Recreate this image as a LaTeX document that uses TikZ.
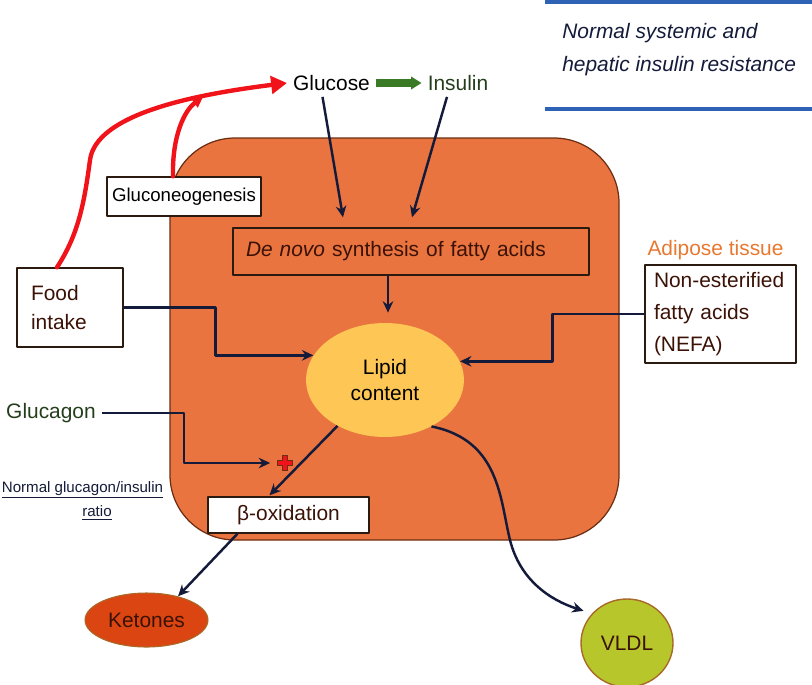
\documentclass[tikz,border=0pt]{standalone}
\usepackage{fontspec}
\setmainfont{Liberation Sans}
\usetikzlibrary{calc,arrows.meta,shapes.geometric}

\definecolor{liverorange}{HTML}{E9743F}
\definecolor{liverline}{HTML}{6B2E12}
\definecolor{boxline}{HTML}{2A1A10}
\definecolor{browntext}{HTML}{3B1205}
\definecolor{navy}{HTML}{141B3A}
\definecolor{glured}{HTML}{F0141A}
\definecolor{glugreen}{HTML}{3A7A25}
\definecolor{darkgreen}{HTML}{243E1C}
\definecolor{lipidyellow}{HTML}{FDC655}
\definecolor{ketonered}{HTML}{DA4512}
\definecolor{vldlgreen}{HTML}{B7C72B}
\definecolor{rimbrown}{HTML}{A86A28}
\definecolor{titleblue}{HTML}{2E62B5}
\definecolor{adipose}{HTML}{E8782F}

\begin{document}
\begin{tikzpicture}[
  x=0.02cm, y=-0.02cm,  % pixel grid of the figure, y runs downwards
  every node/.style={font=\fontsize{11.9}{14}\selectfont},
  box/.style={draw=boxline, line width=0.8pt, fill=white, inner sep=0pt, text=browntext},
  blob/.style={ellipse, inner sep=0pt, text=browntext},
  flow/.style={draw=navy, line width=1.4pt, -{Stealth[length=6.5pt,width=6pt]}},
  redflow/.style={draw=glured, line width=2.5pt, line cap=round},
  every path/.style={line join=round}
]
\useasboundingbox (0,0) rectangle (812,684);

% ---------------- Title lines (top right) ----------------
\draw[titleblue, line width=2.3pt] (545,1.5) -- (812,1.5);
\draw[titleblue, line width=2.8pt] (545,109) -- (812,109);
\node[anchor=west, inner sep=0pt, align=left, text=navy,
      font=\fontsize{11.9}{18.7}\selectfont\itshape] (title) at (562,49.5)
  {Normal systemic and\\hepatic insulin resistance};

% ---------------- Liver ----------------
\draw[fill=liverorange, draw=liverline, line width=0.7pt, rounded corners=1.3cm]
  (170,138) rectangle (619,540);

\node[box, fill=liverorange, minimum width=7.12cm, minimum height=0.94cm,
      text width=6.6cm, align=left] (denovo) at (411,251.5)
  {\textit{De novo} synthesis of fatty acids};
\node[blob, fill=lipidyellow, minimum width=3.16cm, minimum height=2.28cm,
      align=center, text=black, font=\fontsize{11.9}{14.7}\selectfont] (lipid) at (385,380)
  {Lipid\\content};
\node[box, minimum width=3.22cm, minimum height=0.72cm] (beta) at (288.5,515) {β-oxidation};

% ---------------- Outside boxes ----------------
\node[box, text=black, minimum width=3.08cm, minimum height=0.78cm,
      font=\fontsize{10.6}{13}\selectfont] (gluco) at (184,196.5) {Gluconeogenesis};
\node[box, minimum width=2.12cm, minimum height=1.58cm, text width=1.56cm,
      align=left, font=\fontsize{11.9}{16.4}\selectfont] (food) at (70,307.5) {Food\\intake};
\node[box, minimum width=3.02cm, minimum height=1.96cm, text width=2.66cm,
      align=left, font=\fontsize{11.9}{18.1}\selectfont] (nefa) at (720.5,314)
  {\mbox{Non-esterified}\\fatty acids\\(NEFA)};
\node[text=adipose] (adip) at (715.5,250) {Adipose tissue};

\node[text=black] (glucose) at (331.5,83) {Glucose};
\node[text=darkgreen] (insulin) at (458,83) {Insulin};
\node[text=darkgreen] (glucagon) at (51,413) {Glucagon};
\node[text=navy, font=\fontsize{8.6}{10}\selectfont] (gratio) at (82.5,490)
  {\underline{Normal glucagon/insulin}};
\node[text=navy, font=\fontsize{8.6}{10}\selectfont] (gratio2) at (97,513)
  {\underline{ratio}};

\node[blob, draw=rimbrown, line width=0.6pt, fill=ketonered, minimum width=2.46cm,
      minimum height=1.08cm] (ket) at (146.5,620) {Ketones};
\node[blob, draw=rimbrown, line width=0.8pt, fill=vldlgreen, minimum width=1.84cm,
      minimum height=1.76cm] (vldl) at (627,643) {VLDL};

% red plus (stimulation mark)
\node[inner sep=0pt, minimum size=0.3cm] (plus) at (285,463) {};
\begin{scope}[shift={(plus)}]
  \filldraw[fill=glured, draw=liverline, line width=0.8pt]
    (-2.5,-7.5) -- (2.5,-7.5) -- (2.5,-2.5) -- (7.5,-2.5) -- (7.5,2.5) -- (2.5,2.5)
    -- (2.5,7.5) -- (-2.5,7.5) -- (-2.5,2.5) -- (-7.5,2.5) -- (-7.5,-2.5) -- (-2.5,-2.5) -- cycle;
\end{scope}

% ---------------- Connectors ----------------
\draw[glugreen, line width=4pt, -{Triangle[length=6pt,width=7pt]}] (glucose.east) -- (insulin.west);

\coordinate (join) at (203,97);
\draw[redflow, -{Triangle[length=9pt,width=10pt]}] ($(food.north)+(-13,0)$)
  .. controls (78,235) and (84,205) .. (90,160)
  .. controls (96,115) and (190,95) .. (glucose.west);
\draw[redflow, -{Triangle[length=6pt,width=6pt]}] ($(gluco.north)+(-11,0)$)
  .. controls (172,135) and (185,110) .. (join);

\draw[flow] ($(glucose.south)+(-9,0)$) -- ($(denovo.north)+(-68,-10)$);
\draw[flow] ($(insulin.south)+(-11,0)$) -- ($(denovo.north)+(1,-10)$);
\draw[flow] ($(denovo.south)+(-23,0)$) -- ($(lipid.north)+(3,-10)$);

\draw[flow] (food.east) -- ++(92,0) |- (lipid.161);
\draw[flow] (nefa.west) -- ++(-92,0) |- (lipid.14);
\draw[flow, shorten >=4pt] (glucagon.east) -- ++(82,0) |- (plus.west);

\draw[flow] (lipid.224) -- ($(beta.north)+(-19,-1)$);
\draw[flow] ($(beta.south)+(-51,0)$) -- (ket.37);
\draw[flow, shorten >=5pt] (lipid.-45) .. controls (500,440) and (500,500) .. (510,540)
  .. controls (520,580) and (550,600) .. (vldl.140);

\end{tikzpicture}
\end{document}
